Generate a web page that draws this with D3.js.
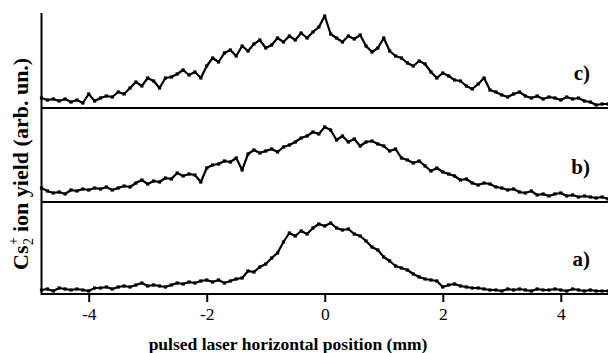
<!DOCTYPE html>
<html>
<head>
<meta charset="utf-8">
<script src="https://cdn.jsdelivr.net/npm/d3@7"></script>
<style>
  body { margin: 0; background: #fff; }
  text { font-family: "Liberation Serif", "Times New Roman", Times, serif; }
</style>
</head>
<body>
<svg id="svg" width="608" height="353"></svg>
<script>
// positions (mm)
const positions = [
  -4.8, -4.7, -4.6, -4.5, -4.4, -4.3, -4.2, -4.1, -4.0, -3.9,
  -3.8, -3.7, -3.6, -3.5, -3.4, -3.3, -3.2, -3.1, -3.0, -2.9,
  -2.8, -2.7, -2.6, -2.5, -2.4, -2.3, -2.2, -2.1, -2.0, -1.9,
  -1.8, -1.7, -1.6, -1.5, -1.4, -1.3, -1.2, -1.1, -1.0, -0.9,
  -0.8, -0.7, -0.6, -0.5, -0.4, -0.3, -0.2, -0.1, 0.0, 0.1,
  0.2, 0.3, 0.4, 0.5, 0.6, 0.7, 0.8, 0.9, 1.0, 1.1,
  1.2, 1.3, 1.4, 1.5, 1.6, 1.7, 1.8, 1.9, 2.0, 2.1,
  2.2, 2.3, 2.4, 2.5, 2.6, 2.7, 2.8, 2.9, 3.0, 3.1,
  3.2, 3.3, 3.4, 3.5, 3.6, 3.7, 3.8, 3.9, 4.0, 4.1,
  4.2, 4.3, 4.4, 4.5, 4.6, 4.7, 4.8
];

// ion yield, arb. units
const yieldA = [
  4, 5, 3, 6, 5, 4, 5, 4, 3, 6,
  6, 7, 5, 7, 8, 7, 9, 11, 8, 9,
  8, 7, 9, 11, 10, 12, 11, 13, 14, 12,
  14, 11, 13, 15, 16, 23, 22, 27, 30, 36,
  41, 52, 61, 58, 63, 60, 66, 70, 68, 71,
  66, 64, 65, 60, 58, 53, 47, 44, 37, 33,
  28, 26, 24, 20, 17, 15, 14, 13, 7, 9,
  10, 8, 7, 6, 6, 5, 4, 4, 3, 5,
  4, 5, 4, 3, 5, 4, 4, 5, 4, 3,
  5, 4, 3, 4, 3, 3, 3
];
const yieldB = [
  14, 11, 9, 10, 8, 12, 11, 13, 12, 14,
  13, 15, 12, 14, 16, 15, 19, 22, 18, 21,
  20, 24, 23, 29, 26, 28, 27, 20, 34, 37,
  38, 41, 40, 44, 32, 48, 52, 49, 51, 53,
  50, 55, 57, 60, 64, 66, 70, 68, 75, 72,
  62, 66, 60, 63, 56, 60, 61, 58, 56, 51,
  53, 44, 42, 39, 41, 36, 31, 34, 30, 28,
  26, 22, 23, 19, 17, 19, 18, 15, 14, 12,
  13, 10, 9, 11, 7, 8, 6, 8, 9, 6,
  7, 5, 6, 5, 4, 5, 3
];
const yieldC = [
  10, 8, 9, 7, 9, 6, 8, 5, 14, 7,
  10, 12, 11, 16, 14, 20, 26, 22, 30, 27,
  20, 30, 31, 34, 38, 33, 36, 30, 42, 50,
  46, 55, 58, 52, 62, 57, 64, 68, 60, 63,
  70, 66, 72, 68, 75, 70, 76, 81, 92, 74,
  70, 66, 72, 69, 73, 62, 56, 60, 70, 57,
  52, 50, 45, 42, 47, 44, 36, 30, 35, 32,
  28, 27, 22, 19, 24, 30, 18, 16, 13, 11,
  14, 16, 12, 10, 12, 9, 11, 10, 8, 11,
  9, 10, 7, 6, 3, 4, 4
];

const xTicks = [-4, -2, 0, 2, 4];
const panels = [
  { label: "c)", values: yieldC, bottom: 108 },
  { label: "b)", values: yieldB, bottom: 202 },
  { label: "a)", values: yieldA, bottom: 294 }
];

const serif = "'Liberation Serif', 'Times New Roman', Times, serif";
const left = 41.5, right = 608;
const svg = d3.select("#svg");

const x = d3.scaleLinear().domain([-4.8, 4.8]).range([left, right]);

panels.forEach(p => {
  const y = d3.scaleLinear().domain([0, 94]).range([p.bottom, p.bottom - 94]);
  const pts = positions.map((d, i) => [d, p.values[i]]);

  svg.append("path")
    .datum(pts)
    .attr("fill", "none")
    .attr("stroke", "#000")
    .attr("stroke-width", 2.2)
    .attr("stroke-linejoin", "round")
    .attr("d", d3.line().x(d => x(d[0])).y(d => y(d[1])));

  svg.append("g").selectAll("rect")
    .data(pts)
    .join("rect")
    .attr("x", d => x(d[0]) - 1.6)
    .attr("y", d => y(d[1]) - 1.6)
    .attr("width", 3.2)
    .attr("height", 3.2)
    .attr("fill", "#000");

  // panel baseline
  svg.append("line")
    .attr("x1", left).attr("x2", right)
    .attr("y1", p.bottom).attr("y2", p.bottom)
    .attr("stroke", "#000")
    .attr("stroke-width", 2);

  svg.append("text")
    .attr("x", 590)
    .attr("y", p.bottom - 28)
    .attr("text-anchor", "end")
    .attr("font-family", serif)
    .attr("font-size", 21)
    .attr("font-weight", "bold")
    .text(p.label);
});

// left axis
svg.append("line")
  .attr("x1", left).attr("x2", left)
  .attr("y1", 13).attr("y2", 295)
  .attr("stroke", "#000")
  .attr("stroke-width", 2);

const xAxis = svg.append("g")
  .attr("transform", "translate(0,294)")
  .attr("font-family", serif)
  .call(d3.axisBottom(x).tickValues(xTicks).tickSize(8).tickSizeOuter(0).tickPadding(6)
    .tickFormat(d => d < 0 ? "-" + Math.abs(d) : String(d)));
xAxis.select(".domain").remove();
xAxis.selectAll(".tick line").attr("stroke-width", 2);
xAxis.selectAll(".tick text")
  .attr("font-size", 17.5)
  .attr("font-family", serif);

svg.append("text")
  .attr("x", 288)
  .attr("y", 350)
  .attr("text-anchor", "middle")
  .attr("font-family", serif)
  .attr("font-size", 17.5)
  .attr("font-weight", "bold")
  .text("pulsed laser horizontal position (mm)");

// y label, reading bottom to top
const yl = svg.append("g")
  .attr("transform", "translate(28,270) rotate(-90)")
  .attr("font-family", serif)
  .attr("font-weight", "bold");
yl.append("text").attr("x", 0).attr("font-size", 22).text("Cs");
yl.append("text").attr("x", 25).attr("y", 5).attr("font-size", 14).attr("font-weight", "normal").text("2");
yl.append("text").attr("x", 25).attr("y", -10).attr("font-size", 14).attr("font-weight", "normal").text("+");
yl.append("text").attr("x", 38).attr("font-size", 22).text("ion yield (arb. un.)");
</script>
</body>
</html>
